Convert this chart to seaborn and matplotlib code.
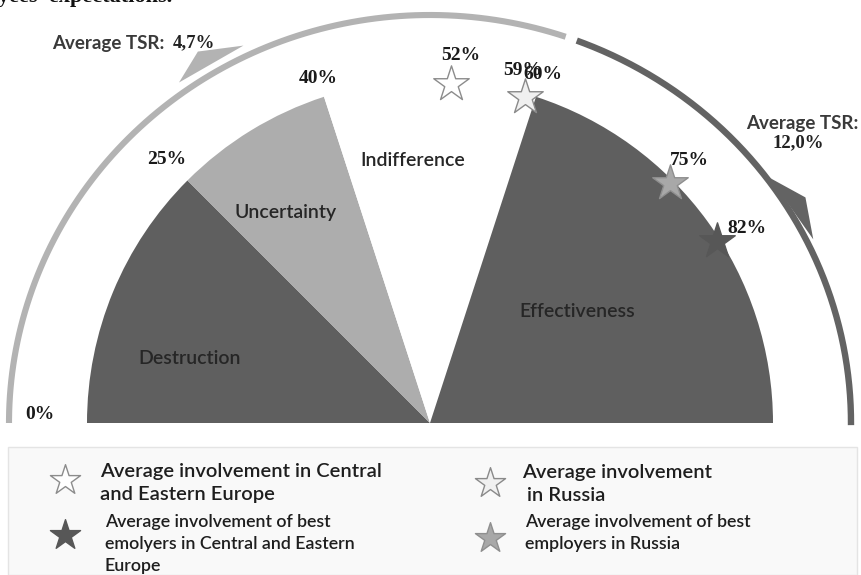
import numpy as np
import pandas as pd
import matplotlib
matplotlib.use("Agg")
import matplotlib.pyplot as plt
import seaborn as sns
from matplotlib.patches import Wedge, Polygon, Rectangle

# ---------------- data ----------------
zones = ["Destruction", "Uncertainty", "Indifference", "Effectiveness"]
zone_start = [0, 25, 40, 60]
zone_end = [25, 40, 60, 100]
zone_colors = ["#5f5f5f", "#adadad", "#ffffff", "#5f5f5f"]

boundary_ticks = [0, 25, 40, 60]
boundary_labels = ["0%", "25%", "40%", "60%"]

star_names = [
    "Average involvement in Central\nand Eastern Europe",
    "Average involvement\n in Russia",
    "Average involvement of best\nemolyers in Central and Eastern\nEurope",
    "Average involvement of best\nemployers in Russia",
]
star_values = [52, 59, 82, 75]
star_value_labels = ["52%", "59%", "82%", "75%"]
star_fill = ["#ffffff", "#f0f0f0", "#575757", "#a8a8a8"]
star_edge = ["#8c8c8c", "#8a8a8a", "#575757", "#8f8f8f"]

tsr_title = "Average TSR:"
tsr_low = "4,7%"
tsr_high = "12,0%"

# ---------------- style / layout ----------------
SANS = ["Lato", "DejaVu Sans"]
SERIF = ["Liberation Serif", "DejaVu Serif"]
R = 343            # sector radius
RX, RY = 421, 408  # outer arc radii
LIGHT = "#b3b3b3"
DARK = "#636363"

def ang(p):
    return np.pi * (1 - p / 100.0)

sns.set_theme(style="white")
plt.rcParams["font.family"] = SANS

fig = plt.figure(figsize=(8.61, 5.75), dpi=100)
ax = fig.add_axes([0, 0, 1, 1])
ax.set_xlim(-430, 431)
ax.set_ylim(-152, 423)
ax.axis("off")

# sectors
for s, e, c in zip(zone_start, zone_end, zone_colors):
    ax.add_patch(Wedge((0, 0), R, np.degrees(ang(e)), np.degrees(ang(s)),
                       facecolor=c, edgecolor="none", zorder=1))

# zone labels
label_ang = [165, 124.5, 93.7, 37]
label_r = [249, 255, 263, 185]
for z, a, r in zip(zones, label_ang, label_r):
    t = np.radians(a)
    ax.text(r * np.cos(t), r * np.sin(t), z, ha="center", va="center",
            fontsize=14, fontweight="semibold", color="#262626", family=SANS, zorder=5)

# outer arcs
t1 = np.radians(np.linspace(71.2, 180, 200))
ax.plot(RX * np.cos(t1), RY * np.sin(t1), color=LIGHT, lw=4.4,
        solid_capstyle="butt", zorder=2)
t2 = np.radians(np.linspace(-0.3, 69.6, 200))
ax.plot(RX * np.cos(t2), RY * np.sin(t2), color=DARK, lw=4.6,
        solid_capstyle="butt", zorder=2)

def polar_pts(pts):
    return [(r * np.cos(np.radians(a)), r * np.sin(np.radians(a))) for r, a in pts]

ax.add_patch(Polygon(polar_pts([(421, 116.3), (438, 122.0), (423, 126.4)]),
                     closed=True, facecolor=LIGHT, edgecolor="none", zorder=2))
ax.add_patch(Polygon(polar_pts([(419, 35.8), (438, 31.0), (425, 25.6)]),
                     closed=True, facecolor=DARK, edgecolor="none", zorder=2))

# TSR texts
ax.text(-378, 380, tsr_title, ha="left", va="center", fontsize=13.5,
        fontweight="bold", color="#3a3a3a", family=SANS)
ax.text(-257, 380, tsr_low, ha="left", va="center", fontsize=13.5,
        fontweight="bold", color="#222222", family=SERIF)
ax.text(372, 300, tsr_title, ha="center", va="center", fontsize=13.5,
        fontweight="bold", color="#3a3a3a", family=SANS)
ax.text(368, 280, tsr_high, ha="center", va="center", fontsize=13.5,
        fontweight="bold", color="#222222", family=SERIF)

# boundary labels
blab_r = [390, 372, 362, 366]
for p, lab, r in zip(boundary_ticks, boundary_labels, blab_r):
    t = ang(p)
    dy = 8 if p == 0 else 0
    ax.text(r * np.cos(t), r * np.sin(t) + dy, lab, ha="center", va="center",
            fontsize=14, fontweight="bold", color="#1a1a1a", family=SERIF, zorder=6)

# stars on gauge
star_r = 340
df = pd.DataFrame({
    "name": star_names,
    "value": star_values,
    "x": [star_r * np.cos(ang(v)) for v in star_values],
    "y": [star_r * np.sin(ang(v)) for v in star_values],
})
for i, row in df.iterrows():
    sns.scatterplot(x=[row.x], y=[row.y], marker="*", s=720, color=star_fill[i],
                    edgecolor=star_edge[i], linewidth=1.0, ax=ax, zorder=7, legend=False)

star_lab_off = [(9, 28), (-2, 26), (30, 12), (19, 22)]
for i, row in df.iterrows():
    ox, oy = star_lab_off[i]
    ax.text(row.x + ox, row.y + oy, star_value_labels[i], ha="center", va="center",
            fontsize=14, fontweight="bold", color="#1a1a1a", family=SERIF, zorder=8)

# legend box
ax.add_patch(Rectangle((-422, -152), 849, 128, facecolor="#f9f9f9",
                       edgecolor="#e4e4e4", lw=1.0, zorder=0))
leg_star_xy = [(-365, -57), (60, -60), (-365, -112), (60, -115)]
leg_text_xy = [(-330, -60), (92, -61), (-325, -121), (95, -110)]
leg_font = [14.5, 14.5, 12.8, 12.8]
leg_ls = [1.38, 1.38, 1.5, 1.5]
for i in range(4):
    sx, sy = leg_star_xy[i]
    sns.scatterplot(x=[sx], y=[sy], marker="*", s=520, color=star_fill[i],
                    edgecolor=star_edge[i], linewidth=1.0, ax=ax, zorder=7, legend=False)
    tx, ty = leg_text_xy[i]
    ax.text(tx, ty, star_names[i], ha="left", va="center", fontsize=leg_font[i],
            fontweight="semibold", color="#1e1e1e", family=SANS,
            linespacing=leg_ls[i], zorder=8)

# cut-off heading at the very top
ax.text(-432, 421, "yees\u2019 expectations.", ha="left", va="baseline",
        fontsize=16, fontweight="bold", color="#111111", family=SERIF)

ax.set_xlim(-430, 431)
ax.set_ylim(-152, 423)
fig.savefig("out.png", dpi=100)
